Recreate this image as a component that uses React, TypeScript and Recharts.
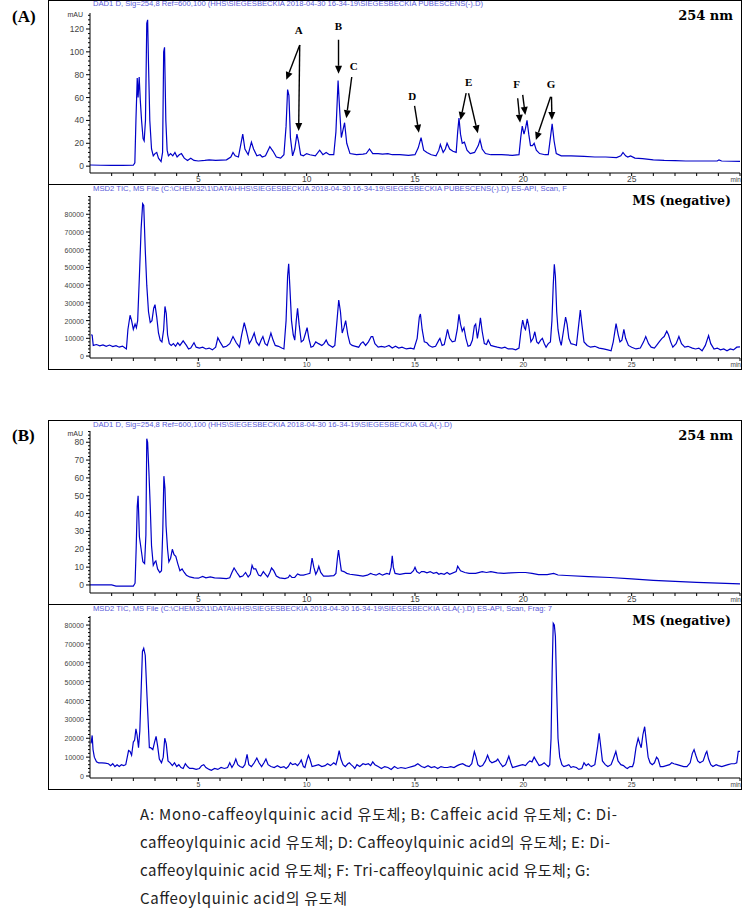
import React from 'react';
import { LineChart, Line, XAxis, YAxis, ReferenceLine, ReferenceDot } from 'recharts';

// ---- (A) 254 nm trace: retention time (min) / absorbance (mAU)
const dadATime = [0, 0.5, 1.0, 1.5, 2.0, 2.07, 2.12, 2.18, 2.22, 2.27, 2.32, 2.38, 2.45, 2.5, 2.56, 2.62, 2.66, 2.7, 2.76, 2.84, 2.92, 3.0, 3.08, 3.16, 3.28, 3.35, 3.4, 3.44, 3.5, 3.56, 3.62, 3.72, 3.82, 3.92, 4.02, 4.12, 4.22, 4.35, 4.5, 4.65, 4.8, 5.0, 5.3, 5.5, 5.8, 6.3, 6.5, 6.6, 6.7, 6.85, 6.95, 7.05, 7.15, 7.3, 7.45, 7.55, 7.7, 7.85, 7.95, 8.1, 8.3, 8.45, 8.6, 8.8, 8.95, 9.05, 9.12, 9.18, 9.25, 9.35, 9.45, 9.55, 9.62, 9.72, 9.85, 10.0, 10.15, 10.4, 10.6, 10.75, 10.9, 11.05, 11.25, 11.35, 11.45, 11.52, 11.6, 11.68, 11.75, 11.85, 12.0, 12.3, 12.6, 12.75, 12.9, 13.05, 13.3, 13.5, 13.75, 13.95, 14.3, 14.7, 15.0, 15.15, 15.28, 15.4, 15.55, 15.75, 15.97, 16.1, 16.17, 16.3, 16.4, 16.48, 16.6, 16.75, 16.9, 16.97, 17.03, 17.1, 17.18, 17.28, 17.4, 17.55, 17.75, 17.92, 18.0, 18.1, 18.25, 18.5, 19.0, 19.5, 19.8, 19.88, 19.95, 20.03, 20.1, 20.17, 20.25, 20.33, 20.42, 20.5, 20.6, 20.75, 21.0, 21.15, 21.25, 21.33, 21.42, 21.52, 21.75, 22.2, 22.8, 23.3, 23.8, 24.3, 24.5, 24.6, 24.72, 24.82, 24.95, 25.15, 25.5, 26.0, 26.5, 27.0, 27.5, 28.0, 28.5, 28.95, 29.03, 29.15, 29.6, 30];
const dadAValue = [1, 0.8, 0.7, 0.7, 0.8, 3, 40, 77, 60, 78, 58, 40, 24, 22, 40, 125, 128, 90, 40, 15, 9, 11, 12, 7, 4, 12, 100, 104, 40, 14, 9, 11, 9, 12, 8, 10, 11, 7, 5, 7, 5, 4.5, 5, 5.5, 5, 5.5, 8, 12, 9, 8, 18, 28, 15, 10, 21, 15, 9, 10, 8, 9, 17, 13, 8, 7, 10, 35, 67, 62, 25, 9, 15, 28, 22, 10, 9, 11, 10, 9, 14, 10, 12, 10, 10, 30, 75, 50, 25, 32, 38, 20, 11, 10, 10.5, 11, 15, 11, 11, 10.5, 11, 10, 10, 9.5, 10, 16, 25, 14, 12, 10, 9, 14, 19, 12, 15, 20, 15, 13, 12, 30, 42, 28, 20, 21, 14, 11, 12, 18, 23, 15, 11, 10, 10, 9.5, 10, 25, 35, 28, 33, 40, 28, 18, 18, 20, 14, 11, 10, 10, 25, 37, 22, 11, 9, 9, 8.5, 8, 8, 7.5, 9, 12, 9, 8, 9, 7, 6.5, 5.5, 5, 4.8, 4.5, 4.5, 4.5, 4.5, 5.5, 4.5, 4.3, 4.2];

// ---- (A) MS negative TIC
const msATime = [0.05, 0.1, 0.15, 0.3, 0.45, 0.6, 0.75, 0.9, 1.05, 1.2, 1.35, 1.5, 1.62, 1.68, 1.75, 1.85, 1.92, 2.0, 2.08, 2.14, 2.2, 2.28, 2.36, 2.43, 2.48, 2.55, 2.62, 2.7, 2.78, 2.86, 2.94, 3.0, 3.08, 3.16, 3.24, 3.32, 3.4, 3.46, 3.52, 3.58, 3.66, 3.75, 3.85, 3.95, 4.05, 4.15, 4.3, 4.45, 4.55, 4.65, 4.8, 4.9, 5.05, 5.2, 5.35, 5.5, 5.65, 5.8, 5.9, 6.0, 6.15, 6.3, 6.45, 6.6, 6.75, 6.9, 7.0, 7.12, 7.22, 7.35, 7.45, 7.58, 7.68, 7.8, 7.9, 7.98, 8.08, 8.18, 8.28, 8.35, 8.45, 8.55, 8.7, 8.85, 8.95, 9.05, 9.12, 9.17, 9.22, 9.3, 9.38, 9.45, 9.52, 9.58, 9.65, 9.75, 9.85, 9.95, 10.02, 10.1, 10.2, 10.3, 10.42, 10.55, 10.7, 10.8, 10.9, 11.0, 11.2, 11.3, 11.4, 11.48, 11.56, 11.64, 11.72, 11.8, 11.9, 12.0, 12.1, 12.25, 12.4, 12.5, 12.6, 12.72, 12.85, 12.98, 13.05, 13.15, 13.3, 13.45, 13.6, 13.8, 13.95, 14.1, 14.25, 14.4, 14.6, 14.8, 14.95, 15.1, 15.2, 15.25, 15.33, 15.43, 15.55, 15.65, 15.8, 15.95, 16.1, 16.15, 16.25, 16.35, 16.45, 16.5, 16.6, 16.72, 16.85, 16.95, 17.03, 17.1, 17.18, 17.26, 17.35, 17.45, 17.55, 17.65, 17.74, 17.8, 17.88, 17.95, 18.02, 18.1, 18.2, 18.3, 18.38, 18.5, 18.65, 18.8, 19.0, 19.15, 19.3, 19.5, 19.65, 19.8, 19.9, 19.97, 20.05, 20.1, 20.18, 20.25, 20.35, 20.45, 20.53, 20.62, 20.7, 20.8, 20.88, 20.97, 21.05, 21.15, 21.25, 21.32, 21.38, 21.43, 21.48, 21.54, 21.6, 21.68, 21.75, 21.85, 21.95, 22.02, 22.1, 22.2, 22.35, 22.45, 22.55, 22.63, 22.7, 22.8, 22.95, 23.1, 23.3, 23.5, 23.7, 23.9, 24.05, 24.15, 24.28, 24.38, 24.46, 24.55, 24.64, 24.72, 24.85, 25.0, 25.2, 25.4, 25.55, 25.65, 25.78, 25.9, 26.05, 26.15, 26.27, 26.4, 26.5, 26.62, 26.7, 26.8, 26.9, 27.05, 27.18, 27.3, 27.45, 27.6, 27.8, 27.95, 28.1, 28.25, 28.4, 28.55, 28.65, 28.8, 28.95, 29.1, 29.25, 29.4, 29.55, 29.7, 29.85, 30];
const msAValue = [12000, 11800, 6000, 6500, 5800, 6300, 5500, 6200, 5300, 5900, 5000, 5600, 4500, 4000, 15000, 23000, 20000, 15000, 18000, 16000, 20000, 45000, 72000, 86000, 85000, 60000, 40000, 25000, 19000, 20000, 27000, 29000, 22000, 13000, 9000, 8000, 15000, 28000, 24000, 12000, 7000, 6000, 7000, 5500, 7500, 6000, 8600, 6000, 4000, 4500, 7500, 5000, 4500, 5000, 4000, 4500, 3500, 5000, 10300, 8000, 5000, 5500, 7000, 11000, 7500, 5000, 12000, 18800, 14000, 7000, 9000, 13000, 8000, 6000, 9000, 11000, 7000, 6000, 10000, 13000, 9000, 6000, 5500, 4500, 4000, 20000, 45000, 52000, 40000, 20000, 12000, 9000, 20000, 27000, 18000, 8000, 9000, 13000, 16000, 10000, 5000, 5500, 8000, 7000, 6000, 7000, 9000, 6500, 5000, 6000, 20000, 31600, 25000, 13000, 16000, 20000, 12000, 7000, 6000, 5500, 5000, 7000, 8000, 6000, 8000, 11000, 11000, 7000, 5000, 5500, 5000, 6000, 4500, 5500, 4500, 5000, 4000, 4500, 4000, 10000, 22000, 23700, 15000, 8000, 7500, 6000, 5000, 5500, 9000, 10000, 6000, 6500, 12000, 15000, 10000, 8000, 8500, 15000, 23500, 18000, 14000, 16000, 10000, 5500, 6000, 9000, 17000, 18000, 10000, 15000, 21500, 14000, 7000, 6500, 9000, 6000, 5500, 5000, 4500, 5000, 4000, 4000, 3500, 4500, 15000, 20300, 16000, 15000, 21000, 17000, 8000, 10000, 13700, 8000, 7000, 9000, 10000, 7000, 5000, 7000, 8000, 20000, 40000, 51800, 45000, 25000, 15000, 9000, 6000, 14000, 22000, 18000, 10000, 7000, 6500, 6000, 17000, 26000, 18000, 8000, 6000, 5000, 5500, 4500, 4000, 3500, 3000, 8000, 18300, 12000, 8000, 9000, 15000, 10000, 6000, 5000, 4000, 4500, 8000, 11000, 7000, 5000, 4500, 6000, 8000, 10000, 11000, 14000, 12000, 8000, 5000, 7000, 11000, 7000, 5000, 5500, 4500, 4000, 4500, 3000, 6000, 11500, 7000, 4000, 4500, 3500, 4000, 3000, 4000, 3500, 5000, 5200];

// ---- (B) 254 nm trace
const dadBTime = [0, 0.5, 1.0, 1.2, 1.6, 2.0, 2.08, 2.13, 2.18, 2.22, 2.28, 2.36, 2.44, 2.52, 2.58, 2.62, 2.66, 2.72, 2.78, 2.84, 2.92, 3.0, 3.04, 3.12, 3.22, 3.3, 3.36, 3.41, 3.46, 3.51, 3.58, 3.64, 3.72, 3.8, 3.88, 3.96, 4.05, 4.15, 4.25, 4.35, 4.45, 4.6, 4.8, 5.0, 5.2, 5.35, 5.55, 5.75, 6.0, 6.3, 6.45, 6.55, 6.65, 6.78, 6.92, 7.05, 7.18, 7.3, 7.4, 7.48, 7.55, 7.65, 7.78, 7.88, 8.0, 8.1, 8.2, 8.3, 8.38, 8.48, 8.6, 8.75, 9.0, 9.15, 9.22, 9.32, 9.45, 9.58, 9.7, 9.85, 10.0, 10.15, 10.25, 10.33, 10.42, 10.5, 10.56, 10.65, 10.78, 11.0, 11.25, 11.35, 11.42, 11.47, 11.53, 11.6, 11.72, 11.85, 12.0, 12.3, 12.6, 12.8, 12.95, 13.05, 13.2, 13.35, 13.5, 13.7, 13.82, 13.9, 13.95, 14.0, 14.08, 14.3, 14.55, 14.8, 14.93, 15.0, 15.08, 15.2, 15.3, 15.42, 15.55, 15.7, 15.85, 16.0, 16.1, 16.2, 16.35, 16.48, 16.6, 16.9, 16.97, 17.1, 17.3, 17.5, 17.8, 18.1, 18.3, 18.5, 18.8, 19.1, 19.4, 19.8, 20.1, 20.4, 20.7, 21.1, 21.4, 21.6, 22.0, 23.0, 24.0, 25.0, 26.0, 27.0, 28.0, 29.0, 30];
const dadBValue = [0, 0, 0, -0.6, -0.7, -0.6, 1, 20, 44, 50, 27, 20, 13, 12, 28, 82, 80, 63, 44, 22, 11, 13, 13.5, 9, 7, 8, 31, 61, 54, 33, 20, 13, 15, 20, 17, 16, 12, 8, 9, 7, 5.5, 4.5, 4, 3.8, 4.8, 4, 4.5, 4, 3.8, 3.6, 4, 7, 9.5, 7, 4.5, 5, 7, 4.5, 6, 11, 9, 9, 5.5, 5, 7.5, 6, 4.5, 7, 9.5, 8, 5, 4, 3.6, 4.2, 5.5, 4.2, 4.2, 6.2, 5.5, 5.5, 6, 6.5, 15, 10, 6, 8, 10.5, 7, 5, 5, 5.2, 6.5, 15, 19.5, 14, 8, 7.5, 6.5, 6, 5.5, 5, 5.5, 6.5, 6, 5.5, 6.5, 5.5, 6.5, 6, 10, 16.4, 10, 6.5, 6, 6.5, 6.5, 8, 9.9, 7.5, 6.5, 7.5, 7.5, 6.8, 7.5, 6.5, 7, 6, 6.5, 6, 7, 6, 7.5, 10.5, 8, 7, 6.5, 6.5, 7.5, 7, 7.5, 6.8, 6.5, 6.8, 7, 7, 6.5, 5.8, 5.8, 6.5, 5.6, 5.3, 4.7, 4.2, 3.4, 2.6, 2.0, 1.5, 1.0, 0.6];

// ---- (B) MS negative TIC
const msBTime = [0.05, 0.1, 0.14, 0.2, 0.3, 0.4, 0.55, 0.7, 0.85, 0.95, 1.05, 1.15, 1.25, 1.35, 1.45, 1.55, 1.65, 1.72, 1.78, 1.85, 1.92, 2.0, 2.06, 2.12, 2.17, 2.24, 2.3, 2.36, 2.42, 2.48, 2.55, 2.62, 2.68, 2.74, 2.8, 2.9, 2.98, 3.05, 3.12, 3.2, 3.3, 3.38, 3.45, 3.52, 3.6, 3.7, 3.8, 3.9, 4.0, 4.1, 4.2, 4.3, 4.4, 4.5, 4.6, 4.75, 4.9, 5.05, 5.15, 5.25, 5.35, 5.5, 5.6, 5.75, 5.9, 6.05, 6.2, 6.35, 6.45, 6.55, 6.65, 6.73, 6.82, 6.92, 7.05, 7.15, 7.25, 7.33, 7.45, 7.58, 7.7, 7.8, 7.92, 8.03, 8.12, 8.22, 8.35, 8.5, 8.65, 8.8, 8.95, 9.05, 9.15, 9.25, 9.35, 9.48, 9.58, 9.68, 9.75, 9.85, 9.92, 10.0, 10.08, 10.15, 10.25, 10.4, 10.55, 10.7, 10.85, 10.96, 11.1, 11.25, 11.35, 11.42, 11.5, 11.58, 11.68, 11.78, 11.9, 11.97, 12.05, 12.15, 12.22, 12.32, 12.45, 12.6, 12.72, 12.85, 12.95, 13.05, 13.15, 13.3, 13.45, 13.6, 13.75, 13.9, 14.05, 14.2, 14.35, 14.55, 14.7, 14.85, 15.0, 15.13, 15.3, 15.44, 15.6, 15.75, 15.9, 16.05, 16.2, 16.35, 16.5, 16.65, 16.8, 16.95, 17.05, 17.2, 17.35, 17.5, 17.62, 17.74, 17.82, 17.9, 18.0, 18.12, 18.25, 18.35, 18.45, 18.55, 18.65, 18.75, 18.82, 18.92, 19.05, 19.18, 19.33, 19.42, 19.5, 19.65, 19.8, 19.97, 20.1, 20.2, 20.3, 20.4, 20.5, 20.6, 20.73, 20.85, 20.96, 21.05, 21.15, 21.22, 21.28, 21.33, 21.38, 21.43, 21.48, 21.54, 21.6, 21.68, 21.78, 21.87, 22.0, 22.1, 22.2, 22.3, 22.45, 22.56, 22.7, 22.8, 22.9, 23.0, 23.08, 23.14, 23.3, 23.42, 23.5, 23.58, 23.65, 23.78, 23.9, 24.05, 24.15, 24.27, 24.37, 24.5, 24.62, 24.72, 24.8, 24.92, 25.04, 25.1, 25.2, 25.3, 25.38, 25.44, 25.52, 25.6, 25.68, 25.76, 25.85, 25.95, 26.05, 26.15, 26.22, 26.32, 26.45, 26.6, 26.75, 26.85, 26.95, 27.1, 27.25, 27.4, 27.55, 27.7, 27.8, 27.88, 27.96, 28.05, 28.15, 28.3, 28.42, 28.47, 28.55, 28.65, 28.75, 28.9, 29.0, 29.16, 29.3, 29.45, 29.6, 29.75, 29.85, 29.92, 30];
const msBValue = [17300, 21500, 14000, 10000, 7500, 7000, 7000, 6800, 6500, 5500, 6500, 5000, 6000, 5000, 6000, 5500, 6000, 10000, 13500, 13000, 11000, 18000, 19000, 25000, 22000, 15000, 24000, 45000, 66000, 67700, 64000, 45000, 30000, 15000, 15000, 14000, 18000, 21000, 16000, 9000, 7000, 10000, 20000, 17000, 8000, 7000, 5500, 7000, 5000, 6000, 4500, 4000, 6500, 5000, 4000, 4000, 3500, 4000, 5500, 6000, 4500, 3500, 3000, 4000, 3500, 4500, 4000, 4500, 7000, 4500, 6500, 9000, 6000, 5000, 4500, 6000, 11500, 6000, 5000, 7000, 9500, 7000, 5000, 7000, 9000, 6000, 5000, 4500, 5500, 4500, 5000, 4000, 5000, 7000, 6000, 6500, 5500, 7000, 8500, 5000, 4500, 8000, 11000, 9000, 5000, 5500, 6000, 5000, 5500, 6500, 5500, 7000, 6000, 9000, 13500, 9000, 6000, 5000, 6500, 7000, 6000, 5000, 4000, 6000, 5000, 6500, 6000, 6500, 5500, 7500, 6000, 5000, 4000, 5000, 4500, 3500, 5000, 4000, 4500, 4000, 4500, 5000, 5500, 6500, 5000, 4500, 5500, 4500, 5000, 4000, 5000, 4500, 4500, 5000, 4500, 5500, 6000, 6500, 5500, 5000, 6500, 12900, 10000, 6000, 5000, 5500, 8000, 11000, 8000, 7000, 7500, 8000, 9000, 7000, 5000, 6000, 10500, 7000, 4500, 5000, 5500, 6000, 5500, 7000, 8000, 7500, 10000, 8000, 5500, 6000, 7000, 6000, 5000, 6000, 20000, 55000, 80900, 80000, 74000, 45000, 20000, 10000, 6000, 5000, 5500, 6000, 4500, 5000, 4500, 3500, 4000, 7000, 5500, 6500, 5500, 5000, 6000, 15000, 22600, 15000, 8000, 6000, 5000, 6000, 9000, 13000, 8000, 6000, 5500, 4500, 4000, 5000, 5000, 7000, 15000, 20000, 17000, 15000, 22000, 26100, 18000, 10000, 7000, 6000, 7000, 10000, 9000, 5000, 5000, 5500, 6000, 7000, 6500, 6000, 5500, 5000, 5000, 7000, 12000, 14000, 11000, 8000, 7000, 8000, 12000, 13000, 9000, 6000, 5000, 6000, 5500, 5000, 5500, 6000, 6500, 6500, 7000, 13000, 13000];

// axis ticks (minutes) and y labels
const minuteTicks = [1, 2, 3, 4, 5, 6, 7, 8, 9, 10, 11, 12, 13, 14, 15, 16, 17, 18, 19, 20, 21, 22, 23, 24, 25, 26, 27, 28, 29, 30];
const dadALabels = [0, 20, 40, 60, 80, 100, 120];
const dadBLabels = [0, 10, 20, 30, 40, 50, 60, 70, 80];
const msALabels = [0, 10000, 20000, 30000, 40000, 50000, 60000, 70000, 80000];
const msBLabels = [0, 10000, 20000, 30000, 40000, 50000, 60000, 70000, 80000];

// peak annotations on (A) 254 nm
const peakNames = ['A', 'B', 'C', 'D', 'E', 'F', 'G'];
const peakLabelTime = [9.63, 11.47, 12.17, 14.87, 17.48, 19.69, 21.28];
const peakLabelValue = [119, 123, 88, 61.5, 74, 72, 72];
const arrowFromTime = [9.68, 9.68, 11.47, 12.08, 14.98, 17.36, 17.47, 19.74, 19.97, 21.26, 21.3];
const arrowFromValue = [106, 106, 110.6, 78, 52.7, 63.8, 63.8, 59.4, 62.3, 60.8, 60.8];
const arrowToTime = [9.06, 9.63, 11.47, 11.83, 15.18, 17.1, 17.9, 19.85, 20.09, 20.58, 21.32];
const arrowToValue = [75.5, 30.7, 80.8, 42, 29.2, 40.4, 28.7, 38, 44.8, 22.8, 40.4];

const minorTicks = (labels: number[], parts: number, max: number) => {
    const step = (labels[1] - labels[0]) / parts;
    const out: number[] = [];
    for (let v = 0; v <= max; v += step) out.push(v);
    return out;
};

const Arrow = (p: any) => {
    const { x1, y1, x2, y2 } = p;
    const dx = x2 - x1, dy = y2 - y1;
    const len = Math.sqrt(dx * dx + dy * dy) || 1;
    const ux = dx / len, uy = dy / len;
    const hl = 8, hw = 3.5;
    const bx = x2 - ux * hl, by = y2 - uy * hl;
    return (
        <g>
            <line x1={x1} y1={y1} x2={bx} y2={by} stroke="#000" strokeWidth={1.4} />
            <polygon
                points={`${x2},${y2} ${bx - uy * hw},${by + ux * hw} ${bx + uy * hw},${by - ux * hw}`}
                fill="#000"
            />
        </g>
    );
};

interface PanelProps {
    top: number;
    height: number;
    plotTop: number;
    axisY: number;
    time: number[];
    value: number[];
    domain: [number, number];
    labels: number[];
    yTicks: number[];
    fontSize: number;
    children?: React.ReactNode;
}

function Panel({ top, height, plotTop, axisY, time, value, domain, labels, yTicks, fontSize, children }: PanelProps) {
    const data = time.map((t, i) => ({ t, v: value[i] }));
    const chartTop = top + 1;
    const chartH = height - 2;
    const xAxisH = chartTop + chartH - axisY;

    const XTick = ({ x, y, payload }: any) => {
        const v = payload.value;
        const label = v === 30 ? 'min' : v % 5 === 0 ? String(v) : '';
        return (
            <g>
                <line x1={x} x2={x} y1={y} y2={y + 3} stroke="#000" />
                {label && (
                    <text x={v === 30 ? x + 1 : x} y={y + 9} textAnchor={v === 30 ? 'end' : 'middle'}
                        fontSize={v === 30 ? 6.5 : fontSize} fill="#444" fontFamily="Liberation Sans">
                        {label}
                    </text>
                )}
            </g>
        );
    };

    const YTick = ({ x, y, payload }: any) => {
        const v = payload.value;
        const major = labels.includes(v);
        return (
            <g>
                <line x1={x} x2={x - (major ? 4 : 2)} y1={y} y2={y} stroke="#000" />
                {major && (
                    <text x={x - 6} y={y} dy={3} textAnchor="end" fontSize={fontSize} fill="#444"
                        fontFamily="Liberation Sans">
                        {v}
                    </text>
                )}
            </g>
        );
    };

    return (
        <div style={{
            position: 'absolute', left: 48, top, width: 694, height,
            border: '1px solid #000', boxSizing: 'border-box', background: '#fff'
        }}>
            <LineChart width={692} height={chartH} data={data}
                margin={{ top: plotTop - chartTop, right: 1, bottom: 0, left: 0 }}>
                <XAxis dataKey="t" type="number" domain={[0, 30]} ticks={minuteTicks} interval={0}
                    allowDataOverflow height={xAxisH} tickSize={0} tickMargin={0} tickLine={false}
                    axisLine={{ stroke: '#000' }} tick={XTick} />
                <YAxis type="number" domain={domain} ticks={yTicks} interval={0} allowDataOverflow
                    width={41} tickSize={0} tickMargin={0} tickLine={false}
                    axisLine={{ stroke: '#000' }} tick={YTick} />
                <Line dataKey="v" type="linear" stroke="#0000c8" strokeWidth={1.2} dot={false}
                    isAnimationActive={false} />
                {children}
            </LineChart>
        </div>
    );
}

const headerStyle = { fontSize: 8, fill: '#5a5ad8', fontFamily: 'Liberation Sans' };
const tagStyle = { fontSize: 13, fontWeight: 700, fill: '#000', fontFamily: 'DejaVu Serif' };

export default function App() {
    return (
        <div style={{ position: 'absolute', left: 0, top: 0, width: 742, height: 918, background: '#fff' }}>
            <Panel top={0} height={185} plotTop={13} axisY={173} time={dadATime} value={dadAValue}
                domain={[-6, 134]} labels={dadALabels} yTicks={minorTicks(dadALabels, 5, 132)} fontSize={8.5}>
                {arrowFromTime.map((t, i) => (
                    <ReferenceLine key={`ar-${i}`} segment={[{ x: t, y: arrowFromValue[i] }, { x: arrowToTime[i], y: arrowToValue[i] }]}
                        shape={(p: any) => <Arrow {...p} />} />
                ))}
                {peakNames.map((n, i) => (
                    <ReferenceDot key={`pk-${n}`} x={peakLabelTime[i]} y={peakLabelValue[i]} r={0}
                        shape={(p: any) => (
                            <text x={p.cx} y={p.cy} dy={4} textAnchor="middle" fontSize={11} fontWeight={700}
                                fontFamily="Liberation Serif" fill="#000">{n}</text>
                        )} />
                ))}
            </Panel>
            <Panel top={184} height={186} plotTop={196} axisY={358} time={msATime} value={msAValue}
                domain={[-1100, 90300]} labels={msALabels} yTicks={minorTicks(msALabels, 5, 90000)} fontSize={7} />
            <Panel top={420} height={185} plotTop={431} axisY={593} time={dadBTime} value={dadBValue}
                domain={[-4.5, 86.3]} labels={dadBLabels} yTicks={minorTicks(dadBLabels, 5, 86)} fontSize={8.5} />
            <Panel top={604} height={186} plotTop={616} axisY={778} time={msBTime} value={msBValue}
                domain={[-1060, 84800]} labels={msBLabels} yTicks={minorTicks(msBLabels, 5, 84000)} fontSize={7} />

            <svg width={742} height={918} style={{ position: 'absolute', left: 0, top: 0, pointerEvents: 'none' }}>
                <text x={12} y={22} fontSize={17} fontWeight={700} fontFamily="Liberation Serif">(A)</text>
                <text x={12} y={441} fontSize={17} fontWeight={700} fontFamily="Liberation Serif">(B)</text>

                <text x={93} y={6} textLength={390} lengthAdjust="spacingAndGlyphs" style={headerStyle}>
                    {'DAD1 D, Sig=254,8 Ref=600,100 (HHS\\SIEGESBECKIA 2018-04-30 16-34-19\\SIEGESBECKIA PUBESCENS(-).D)'}
                </text>
                <text x={93} y={191} textLength={474} lengthAdjust="spacingAndGlyphs" style={headerStyle}>
                    {'MSD2 TIC, MS File (C:\\CHEM32\\1\\DATA\\HHS\\SIEGESBECKIA 2018-04-30 16-34-19\\SIEGESBECKIA PUBESCENS(-).D)   ES-API, Scan, F'}
                </text>
                <text x={93} y={427} textLength={359} lengthAdjust="spacingAndGlyphs" style={headerStyle}>
                    {'DAD1 D, Sig=254,8 Ref=600,100 (HHS\\SIEGESBECKIA 2018-04-30 16-34-19\\SIEGESBECKIA GLA(-).D)'}
                </text>
                <text x={93} y={611} textLength={459} lengthAdjust="spacingAndGlyphs" style={headerStyle}>
                    {'MSD2 TIC, MS File (C:\\CHEM32\\1\\DATA\\HHS\\SIEGESBECKIA 2018-04-30 16-34-19\\SIEGESBECKIA GLA(-).D)   ES-API, Scan, Frag: 7'}
                </text>

                <text x={83} y={17} textAnchor="end" fontSize={7} fill="#333" fontFamily="Liberation Sans">mAU</text>
                <text x={83} y={436} textAnchor="end" fontSize={7} fill="#333" fontFamily="Liberation Sans">mAU</text>

                <text x={733} y={20} textAnchor="end" style={tagStyle}>254 nm</text>
                <text x={733} y={440} textAnchor="end" style={tagStyle}>254 nm</text>
                <text x={731} y={205} textAnchor="end" style={{ ...tagStyle, fontSize: 12.5 }}>MS (negative)</text>
                <text x={731} y={625} textAnchor="end" style={{ ...tagStyle, fontSize: 12.5 }}>MS (negative)</text>

                <g fontFamily="'Noto Sans CJK KR', 'Noto Sans', sans-serif" fontSize={15} fill="#222">
                    <text x={140} y={820} textLength={477} lengthAdjust="spacing">A: Mono-caffeoylquinic acid 유도체;  B: Caffeic acid 유도체; C: Di-</text>
                    <text x={140} y={848} textLength={470} lengthAdjust="spacing">caffeoylquinic acid 유도체; D: Caffeoylquinic acid의 유도체; E: Di-</text>
                    <text x={140} y={876} textLength={450} lengthAdjust="spacing">caffeoylquinic acid 유도체; F: Tri-caffeoylquinic acid 유도체; G:</text>
                    <text x={140} y={904} textLength={207} lengthAdjust="spacing">Caffeoylquinic acid의 유도체</text>
                </g>
            </svg>
        </div>
    );
}
